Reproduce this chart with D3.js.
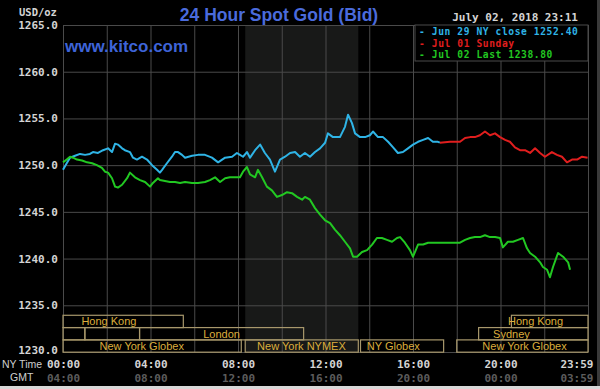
<!DOCTYPE html>
<html>
<head>
<meta charset="utf-8">
<script src="https://cdn.jsdelivr.net/npm/d3@7"></script>
<style>
  html, body { margin: 0; padding: 0; background: #000; }
  svg { display: block; }
  .mono { font-family: "DejaVu Sans Mono", monospace; font-weight: bold; }
  .sans { font-family: "Liberation Sans", Arial, sans-serif; }
</style>
</head>
<body>
<svg id="chart" width="600" height="389"></svg>
<script>
// chart data (hours NY time, USD/oz)
var blueHours = [0, 0.17, 0.32, 0.55, 0.78, 1.01, 1.23, 1.37, 1.6, 1.83, 2.06, 2.24, 2.38, 2.51, 2.7, 2.83,
  3.06, 3.2, 3.38, 3.61, 3.84, 4.07, 4.3, 4.43, 4.53, 4.75, 4.98, 5.12, 5.26, 5.44, 5.58, 5.9, 6.17,
  6.49, 6.81, 7.09, 7.41, 7.73, 7.95, 8.09, 8.23, 8.41, 8.55, 8.78, 9.01, 9.23, 9.46, 9.69, 9.92,
  10.15, 10.38, 10.61, 10.83, 11.06, 11.29, 11.52, 11.75, 11.98, 12.11, 12.34, 12.43, 12.66, 12.89,
  13.03, 13.21, 13.35, 13.58, 13.81, 14.03, 14.17, 14.4, 14.63, 14.86, 15.09, 15.31, 15.54, 15.77,
  16.0, 16.23, 16.46, 16.69, 16.91, 17.14, 17.23];
var blueValues = [1249.5, 1250.2, 1250.8, 1251.0, 1251.2, 1251.1, 1251.2, 1251.4, 1251.3, 1251.6, 1251.8,
  1251.4, 1252.3, 1252.2, 1251.8, 1251.6, 1251.4, 1250.8, 1250.6, 1250.9, 1250.6, 1250.0, 1249.5,
  1249.2, 1249.5, 1250.2, 1250.9, 1251.4, 1251.4, 1251.1, 1250.8, 1251.0, 1251.1, 1251.1, 1250.8,
  1250.3, 1250.8, 1250.9, 1251.3, 1251.1, 1250.9, 1251.4, 1250.8, 1251.6, 1252.2, 1251.3, 1250.6,
  1249.3, 1250.6, 1250.9, 1251.3, 1251.4, 1250.9, 1251.3, 1250.9, 1251.4, 1251.8, 1252.4, 1253.4,
  1253.0, 1253.0, 1253.0, 1254.1, 1255.4, 1254.5, 1253.4, 1253.0, 1253.0, 1253.2, 1253.6, 1253.0,
  1253.0, 1252.5, 1251.9, 1251.3, 1251.4, 1251.8, 1252.2, 1252.5, 1252.7, 1252.9, 1252.5, 1252.5, 1252.4];

var redHours = [17.23, 17.69, 18.15, 18.38, 18.61, 18.83, 19.06, 19.29, 19.52, 19.75, 19.98, 20.21, 20.43,
  20.66, 20.89, 21.12, 21.35, 21.58, 21.81, 22.03, 22.35, 22.58, 22.81, 23.04, 23.27, 23.5, 23.73, 23.98];
var redValues = [1252.4, 1252.5, 1252.5, 1252.9, 1253.0, 1253.0, 1253.2, 1253.6, 1253.2, 1253.4, 1253.0,
  1252.7, 1252.5, 1251.9, 1251.6, 1251.6, 1251.3, 1251.8, 1251.3, 1250.9, 1251.4, 1251.1, 1250.9,
  1250.3, 1250.6, 1250.6, 1250.9, 1250.8];

var greenHours = [0, 0.17, 0.32, 0.46, 0.64, 0.87, 1.1, 1.33, 1.55, 1.78, 1.92, 2.06, 2.24, 2.38, 2.51, 2.7,
  2.93, 3.06, 3.29, 3.52, 3.75, 3.98, 4.11, 4.34, 4.43, 4.66, 4.89, 5.12, 5.35, 5.58, 5.9, 6.17, 6.49,
  6.72, 6.95, 7.18, 7.41, 7.63, 7.86, 8.09, 8.23, 8.41, 8.55, 8.78, 8.91, 9.1, 9.32, 9.55, 9.78, 10.01,
  10.24, 10.47, 10.7, 10.93, 11.06, 11.29, 11.52, 11.75, 11.98, 12.21, 12.43, 12.66, 12.89, 13.12,
  13.26, 13.44, 13.67, 13.9, 14.13, 14.35, 14.58, 14.81, 15.04, 15.27, 15.41, 15.63, 15.86, 16.0,
  16.23, 16.46, 16.69, 16.91, 17.14, 17.69, 18.15, 18.38, 18.61, 18.83, 19.06, 19.29, 19.52, 19.75,
  19.98, 20.11, 20.34, 20.57, 20.8, 21.03, 21.21, 21.35, 21.58, 21.81, 21.94, 22.13, 22.26, 22.4,
  22.63, 22.86, 23.09, 23.18];
var greenValues = [1250.3, 1250.6, 1250.9, 1250.8, 1250.6, 1250.5, 1250.3, 1250.2, 1250.0, 1249.7, 1249.3,
  1249.2, 1248.6, 1247.7, 1247.6, 1247.9, 1248.6, 1249.2, 1248.7, 1248.4, 1248.2, 1247.7, 1248.1,
  1248.6, 1248.4, 1248.3, 1248.2, 1248.2, 1248.1, 1248.2, 1248.1, 1248.1, 1248.2, 1248.4, 1248.7,
  1248.2, 1248.6, 1248.7, 1248.7, 1248.7, 1249.3, 1249.8, 1249.0, 1248.7, 1249.5, 1248.7, 1247.7,
  1247.3, 1246.6, 1246.8, 1247.1, 1247.0, 1246.6, 1246.3, 1246.6, 1246.3, 1245.4, 1244.7, 1244.1,
  1243.8, 1243.1, 1242.5, 1241.8, 1241.1, 1240.2, 1240.2, 1240.7, 1240.9, 1241.5, 1242.2, 1242.2,
  1242.0, 1241.8, 1242.2, 1242.3, 1241.7, 1240.9, 1240.2, 1241.5, 1241.5, 1241.7, 1241.7, 1241.7,
  1241.7, 1241.7, 1242.0, 1242.2, 1242.3, 1242.3, 1242.5, 1242.3, 1242.3, 1242.2, 1241.2, 1241.8,
  1241.8, 1242.0, 1242.2, 1241.1, 1240.6, 1240.2, 1239.6, 1239.1, 1238.8, 1238.0, 1239.1, 1240.6,
  1240.2, 1239.6, 1238.8];

var legendLabels = ["- Jun 29 NY close 1252.40", "- Jul 01 Sunday", "- Jul 02 Last 1238.80"];
var seriesColors = ["#2fb4e6", "#e01e1e", "#22c822"];

var yTicks = [1230, 1235, 1240, 1245, 1250, 1255, 1260, 1265];
var xTickHours = [0, 4, 8, 12, 16, 20, 24];
var nyTimeLabels = ["00:00", "04:00", "08:00", "12:00", "16:00", "20:00", "23:59"];
var gmtLabels = ["04:00", "08:00", "12:00", "16:00", "20:00", "00:00", "03:59"];

// NYMEX pit hours (shaded)
var nymexHours = [8.33, 13.5];

// market sessions: row, start hour, end hour, label
var sessionRows = [0, 0, 1, 1, 1, 1, 2, 2, 2, 2];
var sessionStarts = [0, 20.5, 0, 1, 3.5, 19, 0, 8.33, 13.6, 18];
var sessionEnds = [5.5, 24, 1, 3.5, 11, 24, 8.15, 13.5, 17.4, 24];
var sessionNames = ["Hong Kong", "Hong Kong", "", "", "London", "Sydney",
  "New York Globex", "New York NYMEX", "NY Globex", "New York Globex"];
var sessionLabelAt = [2.1, 21.6, null, null, 7.25, 20.5, 3.6, 10.9, 15.1, 21.1];

document.addEventListener("DOMContentLoaded", function() {

    var svg = d3.select("#chart");

    var margin = {top: 25, right: 12, bottom: 37, left: 63},
        width = +svg.attr("width") - margin.left - margin.right,
        height = +svg.attr("height") - margin.top - margin.bottom;

    var x = d3.scaleLinear().domain([0, 24]).range([0, width]);
    var y = d3.scaleLinear().domain([1230, 1265]).range([height, 0]);

    // frame strips on the right and bottom edge of the image
    svg.append("rect").attr("x", 597).attr("y", 0).attr("width", 3).attr("height", 389).attr("fill", "#3a3a3a");
    svg.append("rect").attr("x", 0).attr("y", 386).attr("width", 600).attr("height", 3).attr("fill", "#d8d8d8");

    var g = svg.append("g")
        .attr("transform", "translate(" + margin.left + "," + margin.top + ")");

    // shaded NYMEX block
    g.append("rect")
        .attr("x", x(nymexHours[0]))
        .attr("y", 0)
        .attr("width", x(nymexHours[1]) - x(nymexHours[0]))
        .attr("height", height)
        .attr("fill", "#181918");

    // gridlines
    g.append("g")
        .call(d3.axisLeft(y).tickValues(yTicks).tickSize(-width).tickFormat(""))
        .call(function(a) { a.select(".domain").remove(); })
        .selectAll("line").attr("stroke", "#4a4a4a");

    g.append("g")
        .attr("transform", "translate(0," + height + ")")
        .call(d3.axisBottom(x).tickValues(d3.range(0, 25, 2)).tickSize(-height).tickFormat(""))
        .call(function(a) { a.select(".domain").remove(); })
        .selectAll("line").attr("stroke", "#4a4a4a");

    // y labels
    var yAxis = g.append("g")
        .call(d3.axisLeft(y).tickValues(yTicks).tickSize(0).tickPadding(5).tickFormat(d3.format(".1f")));
    yAxis.select(".domain").remove();
    yAxis.selectAll("text")
        .attr("class", "mono")
        .attr("font-size", 11)
        .attr("fill", "#d4d4d4");
    yAxis.selectAll(".tick").filter(function(d) { return d === 1230; })
        .select("text").attr("dy", "0.1em");

    svg.append("text")
        .attr("class", "mono")
        .attr("x", 19).attr("y", 16)
        .attr("font-size", 10.5)
        .attr("fill", "#d4d4d4")
        .text("USD/oz");

    // session boxes
    var rowH = 12.3, rowTop = y(1235) + 10;
    var sessions = sessionNames.map(function(n, i) {
        return {name: n, row: sessionRows[i], s: sessionStarts[i], e: sessionEnds[i], at: sessionLabelAt[i]};
    });

    var sg = g.append("g");
    sg.selectAll("rect")
        .data(sessions)
      .enter().append("rect")
        .attr("x", function(d) { return x(d.s); })
        .attr("y", function(d) { return rowTop + d.row * rowH; })
        .attr("width", function(d) { return x(d.e) - x(d.s); })
        .attr("height", rowH)
        .attr("fill", "none")
        .attr("stroke", "#a8986c")
        .attr("stroke-width", 1.2);

    sg.selectAll("text")
        .data(sessions.filter(function(d) { return d.name; }))
      .enter().append("text")
        .attr("class", "sans")
        .attr("x", function(d) { return x(d.at); })
        .attr("y", function(d) { return rowTop + d.row * rowH + rowH / 2 + 4; })
        .attr("text-anchor", "middle")
        .attr("font-size", 11)
        .attr("fill", "#dcae3c")
        .text(function(d) { return d.name; });

    // price lines
    var line = d3.line()
        .x(function(d) { return x(d[0]); })
        .y(function(d) { return y(d[1]); });

    var series = [
        d3.zip(blueHours, blueValues),
        d3.zip(redHours, redValues),
        d3.zip(greenHours, greenValues)
    ];

    g.selectAll(".series")
        .data(series)
      .enter().append("path")
        .attr("class", "series")
        .attr("d", line)
        .attr("fill", "none")
        .attr("stroke", function(d, i) { return seriesColors[i]; })
        .attr("stroke-width", 2)
        .attr("stroke-linejoin", "round");

    // legend box
    var legendX = 415 - margin.left;
    var lg = g.append("g");
    lg.append("rect")
        .attr("x", legendX)
        .attr("y", 0)
        .attr("width", width - legendX)
        .attr("height", 36)
        .attr("fill", "#000")
        .attr("stroke", "#4a4a4a");

    lg.selectAll("text")
        .data(legendLabels)
      .enter().append("text")
        .attr("class", "mono")
        .attr("x", legendX + 4)
        .attr("y", function(d, i) { return 10 + i * 11.5; })
        .attr("font-size", 9.6)
        .attr("letter-spacing", 0.6)
        .attr("fill", function(d, i) { return seriesColors[i]; })
        .text(function(d) { return d; });

    // x labels
    var xAxis = g.append("g")
        .attr("transform", "translate(0," + height + ")")
        .call(d3.axisBottom(x).tickValues(xTickHours).tickSize(0).tickPadding(8)
            .tickFormat(function(d, i) { return nyTimeLabels[i]; }));
    xAxis.select(".domain").remove();
    xAxis.selectAll("text")
        .attr("class", "mono")
        .attr("font-size", 11)
        .attr("fill", "#d4d4d4");

    var gmtAxis = g.append("g")
        .attr("transform", "translate(0," + (height + 14) + ")")
        .call(d3.axisBottom(x).tickValues(xTickHours).tickSize(0).tickPadding(8)
            .tickFormat(function(d, i) { return gmtLabels[i]; }));
    gmtAxis.select(".domain").remove();
    gmtAxis.selectAll("text")
        .attr("class", "mono")
        .attr("font-size", 11)
        .attr("fill", "#5c5c5c");

    // last label sits inside the frame
    [xAxis, gmtAxis].forEach(function(a) {
        a.selectAll(".tick").filter(function(d) { return d === 24; })
            .select("text").attr("text-anchor", "end").attr("dx", 5);
    });

    svg.append("text")
        .attr("class", "sans")
        .attr("x", 2).attr("y", 368)
        .attr("font-size", 10.5)
        .attr("fill", "#cfcfcf")
        .text("NY Time");

    svg.append("text")
        .attr("class", "sans")
        .attr("x", 10).attr("y", 381)
        .attr("font-size", 10.5)
        .attr("fill", "#cfcfcf")
        .text("GMT");

    // titles
    svg.append("text")
        .attr("class", "sans")
        .attr("x", 279).attr("y", 21)
        .attr("text-anchor", "middle")
        .attr("font-size", 17.5)
        .attr("font-weight", "bold")
        .attr("fill", "#4a6bdc")
        .text("24 Hour Spot Gold (Bid)");

    svg.append("text")
        .attr("class", "sans")
        .attr("x", 65).attr("y", 52)
        .attr("font-size", 17)
        .attr("font-weight", "bold")
        .attr("fill", "#3e64d8")
        .text("www.kitco.com");

    svg.append("text")
        .attr("class", "mono")
        .attr("x", 578).attr("y", 21)
        .attr("text-anchor", "end")
        .attr("font-size", 11)
        .attr("font-weight", "normal")
        .attr("fill", "#d4d4d4")
        .text("July 02, 2018 23:11");
});
</script>
</body>
</html>
